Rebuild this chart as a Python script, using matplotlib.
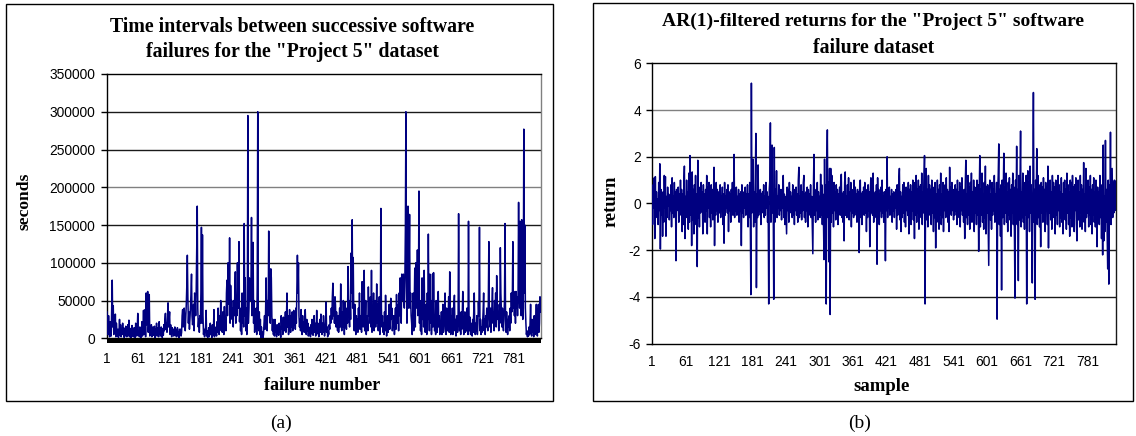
import numpy as np
import matplotlib
matplotlib.use("Agg")
import matplotlib.pyplot as plt
from matplotlib.patches import Rectangle

# ---------------- data ----------------
# Panel (a): time between failures, in thousands of seconds
interval_k = [
    35, 20, 5, 30, 12, 2, 22, 8, 3, 40,
    77, 15, 43, 5, 30, 8, 32, 2, 20, 10,
    3, 12, 1, 8, 25, 4, 18, 2, 10, 5,
    20, 6, 14, 1, 9, 3, 16, 7, 2, 11,
    18, 4, 24, 2, 8, 13, 1, 6, 17, 3,
    9, 2, 14, 5, 1, 20, 7, 3, 12, 33,
    4, 10, 2, 15, 6, 1, 8, 22, 3, 11,
    37, 5, 14, 38, 2, 60, 18, 45, 62, 8,
    25, 58, 3, 12, 6, 18, 2, 10, 15, 4,
    8, 16, 1, 12, 5, 20, 3, 9, 14, 2,
    22, 6, 11, 3, 15, 8, 1, 13, 4, 18,
    10, 25, 33, 12, 20, 8, 30, 47, 15, 25,
    35, 5, 18, 10, 2, 14, 7, 12, 3, 9,
    15, 4, 11, 2, 6, 14, 3, 8, 1, 12,
    5, 12, 3, 8, 30, 38, 15, 35, 40, 22,
    10, 28, 45, 70, 110, 55, 20, 35, 12, 25,
    40, 60, 85, 30, 18, 25, 45, 10, 60, 50,
    30, 62, 120, 175, 40, 15, 25, 8, 30, 20,
    60, 147, 20, 137, 30, 5, 12, 2, 8, 15,
    37, 3, 10, 1, 6, 14, 2, 8, 20, 5,
    12, 1, 18, 4, 9, 38, 2, 15, 6, 10,
    3, 22, 8, 40, 12, 5, 30, 15, 50, 10,
    25, 8, 35, 20, 5, 42, 15, 28, 10, 60,
    77, 30, 100, 60, 45, 133, 20, 70, 35, 50,
    25, 40, 15, 50, 30, 60, 88, 20, 45, 30,
    100, 50, 40, 128, 22, 40, 10, 30, 5, 60,
    20, 40, 15, 152, 30, 80, 10, 40, 5, 25,
    295, 20, 40, 80, 60, 50, 70, 160, 30, 45,
    127, 20, 50, 8, 30, 15, 40, 5, 70, 300,
    20, 10, 35, 5, 25, 0, 15, 3, 8, 1,
    5, 20, 30, 12, 35, 80, 25, 10, 50, 30,
    142, 40, 60, 20, 92, 80, 30, 10, 25, 5,
    15, 3, 25, 8, 12, 2, 18, 6, 10, 4,
    20, 8, 14, 1, 30, 12, 22, 5, 28, 15,
    10, 20, 35, 8, 25, 60, 15, 30, 5, 12,
    38, 20, 8, 30, 15, 35, 10, 25, 37, 18,
    30, 12, 40, 20, 70, 110, 60, 100, 30, 15,
    25, 10, 38, 20, 5, 30, 12, 22, 8, 18,
    38, 15, 5, 25, 10, 20, 3, 15, 8, 12,
    2, 18, 6, 25, 10, 4, 15, 30, 8, 20,
    3, 12, 37, 6, 20, 10, 2, 15, 25, 8,
    32, 12, 5, 20, 8, 30, 15, 3, 10, 22,
    48, 8, 15, 2, 10, 5, 18, 12, 30, 20,
    40, 25, 55, 73, 30, 50, 20, 55, 45, 15,
    35, 20, 10, 30, 8, 25, 40, 15, 72, 20,
    10, 35, 15, 50, 25, 5, 48, 30, 20, 12,
    40, 20, 95, 60, 30, 15, 50, 25, 113, 60,
    157, 40, 107, 30, 10, 45, 20, 5, 30, 15,
    25, 8, 40, 18, 60, 12, 30, 20, 8, 75,
    35, 15, 45, 90, 10, 25, 50, 5, 20, 30,
    10, 68, 30, 48, 20, 55, 15, 90, 8, 40,
    25, 60, 10, 35, 50, 15, 30, 72, 20, 45,
    10, 30, 55, 5, 25, 172, 40, 15, 30, 8,
    20, 5, 35, 10, 57, 25, 3, 15, 30, 8,
    20, 45, 12, 35, 53, 25, 40, 10, 20, 15,
    30, 5, 25, 40, 12, 58, 20, 35, 45, 10,
    60, 30, 80, 45, 20, 85, 60, 50, 85, 50,
    40, 77, 145, 300, 80, 20, 60, 175, 40, 90,
    164, 40, 60, 30, 20, 5, 30, 60, 10, 45,
    93, 15, 100, 50, 40, 117, 30, 60, 195, 20,
    50, 10, 35, 5, 80, 25, 60, 15, 90, 30,
    8, 20, 45, 5, 60, 25, 138, 40, 10, 85,
    20, 50, 5, 30, 85, 15, 87, 40, 10, 25,
    5, 50, 20, 8, 40, 62, 15, 30, 5, 20,
    10, 35, 5, 25, 45, 8, 20, 30, 60, 12,
    5, 40, 20, 10, 30, 55, 8, 88, 25, 5,
    30, 12, 40, 5, 20, 45, 57, 10, 25, 3,
    15, 30, 8, 20, 165, 40, 10, 25, 5, 35,
    12, 30, 62, 20, 5, 15, 35, 8, 25, 10,
    40, 20, 5, 155, 30, 10, 28, 5, 20, 12,
    3, 25, 8, 35, 60, 15, 5, 20, 10, 30,
    5, 20, 48, 30, 147, 10, 25, 5, 15, 8,
    20, 35, 60, 10, 25, 5, 30, 15, 40, 20,
    10, 50, 128, 30, 15, 40, 8, 25, 45, 67,
    20, 35, 10, 50, 30, 60, 15, 83, 40, 25,
    30, 10, 45, 20, 120, 60, 35, 15, 40, 20,
    10, 30, 50, 152, 25, 8, 35, 20, 5, 25,
    15, 30, 10, 40, 20, 60, 35, 50, 128, 40,
    62, 30, 55, 20, 62, 40, 55, 30, 60, 180,
    60, 40, 155, 50, 30, 157, 60, 25, 40, 277,
    60, 150, 40, 20, 5, 10, 2, 8, 3, 15,
    5, 20, 45, 10, 3, 25, 8, 15, 2, 30,
    10, 5, 20, 45, 12, 3, 30, 45, 8, 20, 55, 35,
]

# Panel (b): AR(1)-filtered returns
returns = [
    0.3, -0.9, 0.8, -0.2, 1.1, -1.5, 1.15, -0.6, 0.5, -0.4,
    0.2, -0.9, 0.9, -0.3, 1.7, -1.95, 0.6, -0.5, 0.4, -1.4,
    0.5, -0.8, 1.2, -0.2, 1.15, -1.4, 0.3, -0.6, 0.7, -0.1,
    0.4, -0.7, 0.2, -0.3, 0.8, -1.0, 1.1, -0.4, 0.3, -0.6,
    0.9, -0.2, 0.5, -2.45, 0.6, -0.3, 0.2, 0.7, -0.8, 0.4,
    -0.5, 1.0, -0.3, 0.6, -1.2, 0.4, -0.9, 0.8, 1.6, -1.5,
    0.3, -0.6, 1.0, -0.4, 0.5, -1.1, 1.3, -0.8, 2.05, -0.5,
    0.9, -1.8, 1.35, -0.7, 0.6, -1.3, 0.8, -0.2, 1.2, -0.9,
    0.4, -2.7, 1.85, -0.6, 0.3, -1.0, 0.7, -0.4, 0.9, -0.3,
    0.5, -1.3, 0.8, -0.5, 0.4, -0.8, 0.6, -0.3, 1.2, -1.3,
    0.7, -0.2, 0.9, -0.6, 0.5, -1.0, 0.8, -0.4, 0.6, -0.7,
    0.3, 1.55, -1.8, 0.4, -0.5, 0.9, -0.3, 0.6, -0.8, 0.2,
    0.5, -0.4, 0.8, -0.6, 0.3, -0.2, 0.7, -0.9, 0.4, -1.7,
    0.9, -0.5, 0.3, -0.2, 0.6, -0.4, 0.8, -1.2, 0.5, -0.3,
    0.4, -0.8, 0.6, -0.3, 0.9, -0.5, 0.2, 2.1, -0.6, 0.4,
    -0.3, 0.7, -0.5, 0.3, -0.2, 0.6, -0.8, 0.4, -0.3, 0.5,
    -1.8, 0.8, -0.4, 0.3, -0.6, 0.5, -0.2, 0.7, -0.5, 0.4,
    -0.3, 0.8, -1.0, 0.4, -0.6, 0.9, -0.5, -3.9, 5.15, -0.4,
    0.6, 1.9, -1.0, 0.5, -0.8, 1.2, 3.0, -3.6, 0.4, -0.6,
    1.65, -0.5, 0.3, -0.2, 0.6, -0.9, 0.4, -0.4, 0.5, -0.3,
    0.8, -0.6, 0.3, -0.5, 0.9, -0.2, 0.5, -0.8, 0.3, -4.3,
    0.6, 1.0, 3.45, -0.8, 0.6, 2.5, -0.4, 0.3, -4.1, 2.4,
    -0.8, 0.6, -0.4, 1.4, -0.6, 0.3, -0.2, 0.8, -0.5, 0.4,
    -0.3, 0.6, -0.7, 0.5, -0.2, 1.2, -0.6, 0.4, -0.9, 0.3,
    -0.5, -1.3, 0.7, -0.3, 0.6, -0.8, 0.9, -0.4, 0.5, -0.2,
    0.3, -0.6, 0.8, -0.5, 0.4, -0.9, 0.6, -0.3, 0.7, -0.5,
    0.4, -0.8, 1.0, 1.55, -0.6, 0.3, -0.4, 0.8, -0.7, 0.5,
    -0.3, 0.9, 1.2, -0.6, 0.4, -0.8, 0.5, -0.3, 0.7, -1.0,
    0.6, -0.5, 0.4, -0.2, 0.8, -0.6, 0.3, -0.9, -2.15, 0.6,
    2.1, -0.5, 0.4, -0.8, 0.6, -0.3, 0.9, -0.7, 0.5, -0.4,
    0.3, -0.6, 1.25, -0.5, 0.8, -0.9, 0.4, -0.6, -2.4, 1.9,
    -1.0, 0.8, -4.3, 1.4, 3.15, -0.6, 0.9, -2.5, 1.5, -4.75,
    1.5, -0.8, 1.2, -0.4, 0.6, -1.0, 0.9, -0.3, 0.5, -0.7,
    0.8, -0.4, 0.6, -0.9, 0.4, -0.2, 0.7, -0.5, 1.0, 1.25,
    -0.6, 0.4, -0.8, 0.5, -1.6, 0.9, 1.35, -0.5, 0.3, -0.6,
    0.8, -0.4, 1.1, -0.7, 0.5, -0.3, 0.9, -1.0, 0.6, -0.4,
    0.3, -0.6, 1.0, -0.5, 0.7, -0.2, 0.4, -0.8, 0.6, -0.3,
    0.5, -2.1, 0.8, 1.0, -0.6, 0.4, -0.9, 0.5, -0.3, 0.7,
    -0.5, 0.9, -0.4, 0.6, -1.2, 0.4, -0.6, 0.8, -0.3, 0.5,
    -1.85, 0.6, 1.1, -0.4, 0.7, -0.5, 1.3, -0.8, 0.4, -0.6,
    0.5, -0.3, 0.8, -2.6, 1.1, -0.5, 0.6, -0.9, 0.4, -0.3,
    0.7, -0.6, 1.0, -0.4, 0.3, -0.8, 0.5, -0.2, -2.45, 0.6,
    -0.3, 2.0, -0.6, 0.4, -0.2, 0.7, -0.5, 0.3, -0.4, 0.6,
    -0.8, 0.4, -0.3, 0.5, -0.6, 0.3, -0.2, 0.6, -1.1, 0.8,
    -0.5, 0.4, 0.9, 1.5, -0.7, 0.5, -1.2, 0.3, -0.6, 0.8,
    -0.4, 0.9, -0.8, 0.5, -1.0, 0.7, -0.3, 0.6, -0.5, 0.9,
    -1.3, 0.6, -0.4, 0.8, -0.9, 0.5, -0.3, 1.0, -0.7, 0.4,
    -1.5, 0.9, -0.5, 1.2, -0.8, 0.6, -0.4, 1.0, -1.1, 0.7,
    -0.3, 0.8, -0.6, 1.3, -0.9, 0.5, -0.4, 0.9, 2.05, -4.3,
    0.9, 1.5, -0.7, 0.6, -1.0, 1.2, -0.5, 0.8, -0.3, 0.6,
    -0.9, 1.0, -0.4, 0.7, -1.2, 0.5, -0.6, 0.9, -1.9, 0.4,
    -0.8, 1.0, -0.3, 0.6, -1.1, 0.8, -0.5, 1.3, -0.9, 0.4,
    -0.6, 0.9, -1.2, 0.5, -0.3, 0.8, -0.6, 1.1, -0.4, 0.6,
    -0.8, 0.5, -1.2, 1.55, -0.4, 0.7, -0.5, 0.9, -0.3, 0.6,
    -0.7, 0.4, -0.5, 0.8, -0.3, 0.6, -0.9, 1.0, -0.4, 0.5,
    -0.6, 0.9, -1.0, 0.7, -0.3, 1.1, -0.5, 0.4, -0.8, 0.6,
    -1.5, 0.8, 1.85, -0.6, 0.4, -0.9, 1.2, -0.5, 0.7, -1.1,
    0.9, -0.4, 1.3, -0.8, 0.5, -0.6, 1.0, -1.2, 0.7, -0.4,
    0.6, -0.9, 1.0, -0.5, 0.8, -2.05, 0.4, 2.05, -1.0, 0.6,
    -0.5, 1.3, -0.8, 0.4, -1.1, 0.9, -0.6, 1.6, -1.3, 0.7,
    -0.4, 0.8, -1.0, -2.65, 0.5, 1.0, -0.7, 0.4, -1.1, 0.9,
    -0.5, 0.6, -0.3, 1.2, -0.8, 0.4, -0.6, 0.9, -4.95, 0.5,
    1.2, 2.55, -0.9, 0.6, -1.4, 0.8, -3.7, 1.0, -0.6, 0.4,
    2.15, -0.9, 0.7, -0.4, 1.3, -0.8, 0.5, -1.2, 0.9, -0.5,
    1.1, -0.7, 0.6, -1.4, 0.8, -0.4, 1.3, -0.9, 0.7, -1.2,
    -4.05, 1.0, -0.5, 2.45, -0.9, 0.6, -3.3, 1.2, -0.7, 0.8,
    3.1, -1.0, 0.5, -0.6, 1.3, -0.8, 0.4, -1.1, 0.9, -0.5,
    1.2, -4.3, 0.7, 1.4, -0.6, 0.9, -1.2, 1.6, -0.4, 0.8,
    -0.9, -3.4, 1.1, 4.75, -0.8, 0.6, -4.1, 1.0, -0.5, 2.35,
    -0.9, 1.2, -0.6, 0.8, -1.0, 0.5, -1.85, 0.9, -0.4, 0.7,
    -0.8, 1.1, -0.5, 0.6, -1.2, 0.9, -0.3, 0.7, -0.9, 1.6,
    -1.9, 0.8, -0.4, 1.0, -0.7, 0.5, -1.1, 1.2, -0.6, 0.9,
    -0.4, 0.7, -1.3, 1.0, -0.5, 0.6, -0.9, 1.2, -0.3, 0.8,
    -1.0, 0.5, -0.6, 1.1, -0.8, 0.4, -1.3, 0.9, -0.5, 1.0,
    -0.7, 0.6, -1.1, 1.3, -0.4, 0.8, -0.9, 0.5, -1.4, 1.0,
    -0.6, 0.9, -1.0, 1.2, -0.5, 0.7, -1.2, 0.8, -0.3, 1.1,
    -0.9, -1.6, 0.6, 1.0, -0.7, 0.5, -1.0, 1.2, -0.4, 0.8,
    -1.1, 0.6, -0.5, 1.75, -0.8, 0.4, -1.2, 1.5, -0.6, 0.9,
    -0.4, 1.0, -1.0, 0.7, -0.5, 1.2, -0.9, 0.6, -1.3, 0.8,
    -0.5, 1.1, -0.8, 0.5, -1.0, 1.0, -0.6, -1.85, 0.7, -0.3,
    0.5, -0.9, 1.2, -0.6, 0.8, -1.5, 0.4, -2.2, 2.5, -1.6,
    0.3, -1.2, 2.7, -0.8, 0.6, -1.0, -2.8, 1.0, -3.45, 0.8,
    -0.5, 3.05, -0.9, 0.4, 1.5, -0.6, 0.9, -0.4, 1.0, -0.3, 0.95,
]

xtick_vals = [1, 61, 121, 181, 241, 301, 361, 421, 481, 541, 601, 661, 721, 781]
yticks_a = [0, 50000, 100000, 150000, 200000, 250000, 300000, 350000]
yticks_b = [-6, -4, -2, 0, 2, 4, 6]

title_a = ['Time intervals between successive software',
           'failures for the "Project 5" dataset']
title_b = ['AR(1)-filtered returns for the "Project 5" software',
           'failure dataset']

# ---------------- figure ----------------
W, H = 1136, 436
fig = plt.figure(figsize=(W / 100, H / 100), dpi=100)
fig.patch.set_facecolor('white')

SERIF = ['Liberation Serif', 'DejaVu Serif']
SANS = ['Liberation Sans', 'DejaVu Sans']
NAVY = '#000080'
TICK_FS = 9.9


def fx(x):
    return x / W


def fy(y):
    return 1 - y / H


def put(x, y, s, size, target=None, rot=0, **kw):
    t = fig.text(fx(x), fy(y), s, ha='center', va='center', fontsize=size,
                 rotation=rot, **kw)
    if target is not None:
        r = fig.canvas.get_renderer()
        bb = t.get_window_extent(r)
        cur = bb.height if rot == 90 else bb.width
        t.set_fontsize(size * target / cur)
    return t


def frect(x0, y0, x1, y1, **kw):
    fig.patches.append(Rectangle((fx(x0), fy(y1)), (x1 - x0) / W, (y1 - y0) / H,
                                 transform=fig.transFigure, **kw))


# outer boxes
frect(5.5, 4, 553, 401, fill=False, edgecolor='black', lw=1.0)
frect(593, 3, 1132.5, 401, fill=False, edgecolor='black', lw=1.0)


def style_axes(ax):
    for s in ax.spines.values():
        s.set_color('black')
        s.set_linewidth(1.0)
    ax.spines['right'].set_color('#808080')
    ax.set_facecolor('white')


# ---------------- panel (a) ----------------
ax1 = fig.add_axes([fx(107), fy(338.3), (540.5 - 107) / W, (338.3 - 74) / H])
xa = np.arange(1, len(interval_k) + 1)
ya = np.array(interval_k) * 1000
for v in yticks_a[1:-1]:
    ax1.axhline(v, color='#808080' if v == 200000 else '#1a1a1a', lw=1.0, zorder=1)
ax1.plot(xa, ya, color=NAVY, lw=1.1, zorder=3)
ax1.set_xlim(1, len(interval_k))
ax1.set_ylim(0, 350000)
style_axes(ax1)
ax1.set_yticks(yticks_a)
ax1.set_yticklabels([str(v) for v in yticks_a], fontfamily=SANS, fontsize=TICK_FS)
ax1.tick_params(axis='y', length=4, width=1, direction='out', pad=4.5)
ax1.set_xticks(xtick_vals)
ax1.set_xticklabels([str(v) for v in xtick_vals], fontfamily=SANS, fontsize=TICK_FS)
ax1.tick_params(axis='x', which='major', length=0, pad=10)
# dense category tick marks of the category axis form a solid black band
frect(106.5, 338.0, 541, 343.0, facecolor='black', edgecolor='none')

put(292, 26.7, title_a[0], 12, target=363, fontfamily=SERIF, fontweight='bold')
put(292, 52.3, title_a[1], 12, target=291, fontfamily=SERIF, fontweight='bold')
put(24.5, 201.7, 'seconds', 12, target=57, rot=90, fontfamily=SERIF, fontweight='bold')
put(322, 385, 'failure number', 12, target=116, fontfamily=SERIF, fontweight='bold')
put(281, 423, '(a)', 14, fontfamily=SERIF)

# ---------------- panel (b) ----------------
ax2 = fig.add_axes([fx(652), fy(343.7), (1115.5 - 652) / W, (343.7 - 63.3) / H])
xb = np.arange(1, len(returns) + 1)
for v in [-4, -2, 2, 4]:
    ax2.axhline(v, color='#808080' if v == 4 else '#1a1a1a', lw=1.0, zorder=1)
ax2.axhline(0, color='black', lw=3.0, zorder=2)
ax2.plot(xb, returns, color=NAVY, lw=1.1, zorder=3)
ax2.set_xlim(1, len(returns))
ax2.set_ylim(-6, 6)
style_axes(ax2)
ax2.spines['right'].set_color('#1a1a1a')
ax2.set_yticks(yticks_b)
ax2.set_yticklabels([str(v) for v in yticks_b], fontfamily=SANS, fontsize=TICK_FS)
ax2.tick_params(axis='y', length=4, width=1, direction='out', pad=4)
ax2.set_xticks(xtick_vals)
ax2.set_xticklabels([str(v) for v in xtick_vals], fontfamily=SANS, fontsize=TICK_FS)
ax2.tick_params(axis='x', which='major', length=0, pad=8)

put(873.5, 21.7, title_b[0], 12, target=419, fontfamily=SERIF, fontweight='bold')
put(873.5, 47.7, title_b[1], 12, target=120, fontfamily=SERIF, fontweight='bold')
put(611, 201.7, 'return', 12, target=51, rot=90, fontfamily=SERIF, fontweight='bold')
put(882, 386, 'sample', 12, target=56, fontfamily=SERIF, fontweight='bold')
put(860, 423, '(b)', 14, fontfamily=SERIF)

fig.savefig('out.png', dpi=100, facecolor='white')
